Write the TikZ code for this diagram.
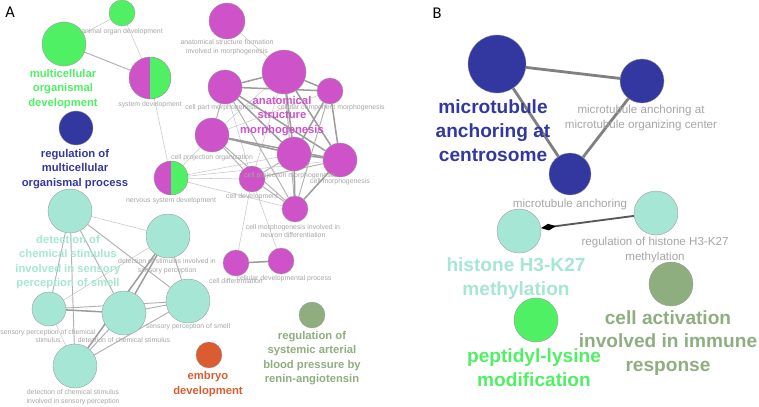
\documentclass[tikz,border=0pt]{standalone}
\usepackage{fontspec}
\setmainfont{Liberation Sans}
\newfontfamily\panelfont{Carlito}
\usetikzlibrary{shapes.geometric, arrows.meta, backgrounds}
\definecolor{magA}{RGB}{206,82,200}
\definecolor{greenA}{RGB}{80,240,100}
\definecolor{blueA}{RGB}{50,56,160}
\definecolor{tealA}{RGB}{166,230,212}
\definecolor{orangeA}{RGB}{218,92,48}
\definecolor{oliveA}{RGB}{143,174,128}
\definecolor{labelgray}{RGB}{165,165,165}
\definecolor{edgegray}{RGB}{128,128,128}
\tikzstyle{term} = [circle, draw=gray!80, line width=0.3pt, inner sep=0pt]
\tikzstyle{smallterm} = [term, minimum size=0.78cm]
\tikzstyle{midterm} = [term, minimum size=1.02cm]
\tikzstyle{bigterm} = [term, minimum size=1.32cm]
\tikzstyle{pie} = [term, fill=magA, path picture={\fill[greenA] (path picture bounding box.north) rectangle (path picture bounding box.south east);}]
\tikzstyle{smalllabel} = [text=labelgray, align=center, inner sep=0pt, font=\fontsize{5.9}{7.6}\selectfont]
\tikzstyle{midlabel} = [text=labelgray, align=center, inner sep=0pt, font=\fontsize{9.9}{12.3}\selectfont]
\tikzstyle{grouplabel} = [align=center, inner sep=0pt, font=\bfseries\fontsize{9.6}{12.3}\selectfont]
\tikzstyle{biglabel} = [align=center, inner sep=0pt, font=\bfseries\fontsize{16.3}{20.4}\selectfont]
\tikzstyle{panel} = [inner sep=0pt, font=\panelfont\fontsize{14}{14}\selectfont]
\tikzstyle{weaklink} = [draw=gray!45, line width=0.45pt]
\tikzstyle{link} = [draw=gray!62, line width=0.8pt]
\tikzstyle{stronglink} = [draw=gray!78, line width=1.3pt]
\tikzstyle{heavylink} = [draw=edgegray, line width=2.4pt]
\tikzstyle{arrow} = [draw=black!65, line width=1.6pt, -{Diamond[length=4.5mm, width=2mm, black]}]

\begin{document}
\begin{tikzpicture}[x=0.03cm, y=-0.03cm]
        \useasboundingbox (0,0) rectangle (759,406);

        \node (panA) [panel] at (10,12) {A};
        \node (panB) [panel] at (437,13) {B};

        % panel A
        \node (aod) [smallterm, fill=greenA] at (122,13) {};
        \node (mod) [bigterm, fill=greenA] at (64,44) {};
        \node (sd) [pie, minimum size=1.26cm] at (150,78) {};
        \node (rmo) [midterm, fill=blueA] at (76,128) {};
        \node (nsd) [pie, minimum size=1.02cm] at (171,178) {};
        \node (asf) [term, minimum size=1.08cm, fill=magA] at (227,21) {};
        \node (asm) [bigterm, fill=magA] at (284,72) {};
        \node (cpm) [midterm, fill=magA] at (225,87) {};
        \node (ccm) [smallterm, fill=magA] at (330,91) {};
        \node (cpo) [midterm, fill=magA] at (212,135) {};
        \node (cprm) [midterm, fill=magA] at (294,154) {};
        \node (cm) [midterm, fill=magA] at (340,160) {};
        \node (cd) [smallterm, fill=magA] at (252,179) {};
        \node (cmn) [smallterm, fill=magA] at (295,209) {};
        \node (cdf) [smallterm, fill=magA] at (236,263) {};
        \node (cdp) [smallterm, fill=magA] at (281,261) {};
        \node (dcs) [bigterm, fill=tealA] at (70,211) {};
        \node (dsp) [bigterm, fill=tealA] at (168,236) {};
        \node (spc) [midterm, fill=tealA] at (49,309) {};
        \node (dchs) [bigterm, fill=tealA] at (124,313) {};
        \node (sps) [bigterm, fill=tealA] at (188,301) {};
        \node (dcsp) [bigterm, fill=tealA] at (75,366) {};
        \node (emb) [smallterm, fill=orangeA] at (209,355) {};
        \node (rsa) [smallterm, fill=oliveA] at (312,315) {};

        \node (aodl) [smalllabel] at (122,32) {animal organ development};
        \node (sdl) [smalllabel] at (150,105) {system development};
        \node (asfl) [smalllabel] at (227,47) {anatomical structure formation\\involved in morphogenesis};
        \node (cpml) [smalllabel] at (222,108) {cell part morphogenesis};
        \node (ccml) [smalllabel] at (331,108) {cellular component morphogenesis};
        \node (cpol) [smalllabel] at (212,158) {cell projection organization};
        \node (nsdl) [smalllabel] at (171,201) {nervous system development};
        \node (cprml) [smalllabel] at (290,176) {cell projection morphogenesis};
        \node (cml) [smalllabel] at (340,182) {cell morphogenesis};
        \node (cdl) [smalllabel] at (252,197) {cell development};
        \node (cmnl) [smalllabel] at (293,231) {cell morphogenesis involved in\\neuron differentiation};
        \node (cdfl) [smalllabel] at (236,281) {cell differentiation};
        \node (cdpl) [smalllabel] at (284,279) {cellular developmental process};
        \node (dspl) [smalllabel] at (167,266) {detection of stimulus involved in\\sensory perception};
        \node (spsl) [smalllabel] at (188,327) {sensory perception of smell};
        \node (spcl) [smalllabel] at (48,336) {sensory perception of chemical\\stimulus};
        \node (dchsl) [smalllabel] at (124,340) {detection of chemical stimulus};
        \node (dcspl) [smalllabel] at (73,397) {detection of chemical stimulus\\involved in sensory perception};

        \node (modl) [grouplabel, text=greenA] at (63,89) {multicellular\\organismal\\development};
        \node (rmol) [grouplabel, text=blueA] at (75,169) {regulation of\\multicellular\\organismal process};
        \node (asml) [grouplabel, text=magA] at (282,116) {anatomical\\structure\\morphogenesis};
        \node (dcsl) [grouplabel, text=tealA] at (68,262) {detection of\\chemical stimulus\\involved in sensory\\perception of smell};
        \node (embl) [grouplabel, text=orangeA] at (208,384) {embryo\\development};
        \node (rsal) [grouplabel, text=oliveA] at (312,358) {regulation of\\systemic arterial\\blood pressure by\\renin-angiotensin};

        % panel B
        \node (mac) [term, minimum size=1.74cm, fill=blueA] at (497,64) {};
        \node (mao) [bigterm, fill=blueA] at (642,81) {};
        \node (ma) [term, minimum size=1.26cm, fill=blueA] at (570,174) {};
        \node (hm) [bigterm, fill=tealA] at (519,231) {};
        \node (rh) [bigterm, fill=tealA] at (656,213) {};
        \node (pl) [bigterm, fill=greenA] at (536,320) {};
        \node (ca) [bigterm, fill=oliveA] at (671,284) {};

        \node (maol) [midlabel] at (641,118) {microtubule anchoring at\\microtubule organizing center};
        \node (mal) [midlabel] at (570,204) {microtubule anchoring};
        \node (rhl) [midlabel] at (655,250) {regulation of histone H3-K27\\methylation};

        \node (macl) [biglabel, text=blueA] at (493,131) {microtubule\\anchoring at\\centrosome};
        \node (hml) [biglabel, text=tealA] at (516,279) {histone H3-K27\\methylation};
        \node (pll) [biglabel, text=greenA] at (534,368) {peptidyl-lysine\\modification};
        \node (cal) [biglabel, text=oliveA] at (668,343) {cell activation\\involved in immune\\response};

        \begin{scope}[on background layer]
        \draw [weaklink] (mod) -- (aod);
        \draw [link] (mod) -- (sd);
        \draw [weaklink] (aod) -- (sd);
        \draw [weaklink] (sd) -- (nsd);
        \draw [weaklink] (asf) -- (asm);
        \draw [stronglink] (asm) -- (cpm);
        \draw [stronglink] (asm) -- (ccm);
        \draw [stronglink] (asm) -- (cprm);
        \draw [stronglink] (asm) -- (cm);
        \draw [weaklink] (asm) -- (cpo);
        \draw [weaklink] (asm) -- (cd);
        \draw [link] (asm) -- (cmn);
        \draw [stronglink] (cpm) -- (ccm);
        \draw [link] (cpm) -- (cpo);
        \draw [stronglink] (cpm) -- (cprm);
        \draw [stronglink] (cpm) -- (cm);
        \draw [link] (cpm) -- (cmn);
        \draw [weaklink] (cpm) -- (cd);
        \draw [weaklink] (ccm) -- (cpo);
        \draw [stronglink] (ccm) -- (cprm);
        \draw [stronglink] (ccm) -- (cm);
        \draw [link] (ccm) -- (cmn);
        \draw [stronglink] (cpo) -- (cprm);
        \draw [stronglink] (cpo) -- (cm);
        \draw [link] (cpo) -- (cd);
        \draw [link] (cpo) -- (cmn);
        \draw [stronglink] (cprm) -- (cm);
        \draw [stronglink] (cprm) -- (cmn);
        \draw [link] (cprm) -- (cd);
        \draw [stronglink] (cm) -- (cmn);
        \draw [link] (cm) -- (cd);
        \draw [link] (cd) -- (cmn);
        \draw [weaklink] (cd) -- (cdf);
        \draw [weaklink] (cd) -- (cdp);
        \draw [stronglink] (cdf) -- (cdp);
        \draw [weaklink] (nsd) -- (cpo);
        \draw [weaklink] (nsd) -- (cprm);
        \draw [weaklink] (nsd) -- (cm);
        \draw [weaklink] (nsd) -- (cd);
        \draw [weaklink] (nsd) -- (cmn);
        \draw [weaklink] (dcs) -- (dsp);
        \draw [link] (dcs) -- (spc);
        \draw [link] (dcs) -- (dchs);
        \draw [link] (dcs) -- (sps);
        \draw [link] (dcs) -- (dcsp);
        \draw [weaklink] (dsp) -- (spc);
        \draw [stronglink] (dsp) -- (dchs);
        \draw [stronglink] (dsp) -- (dcsp);
        \draw [link] (dsp) -- (sps);
        \draw [stronglink] (spc) -- (dchs);
        \draw [link] (spc) -- (sps);
        \draw [weaklink] (spc) -- (dcsp);
        \draw [link] (dchs) -- (sps);
        \draw [link] (dchs) -- (dcsp);
        \draw [link] (sps) -- (dcsp);
        \draw [heavylink] (mac) -- (mao);
        \draw [heavylink] (mac) -- (ma);
        \draw [heavylink] (mao) -- (ma);
        \draw [arrow] (rh) -- (hm);
        \end{scope}
    \end{tikzpicture}
\end{document}
